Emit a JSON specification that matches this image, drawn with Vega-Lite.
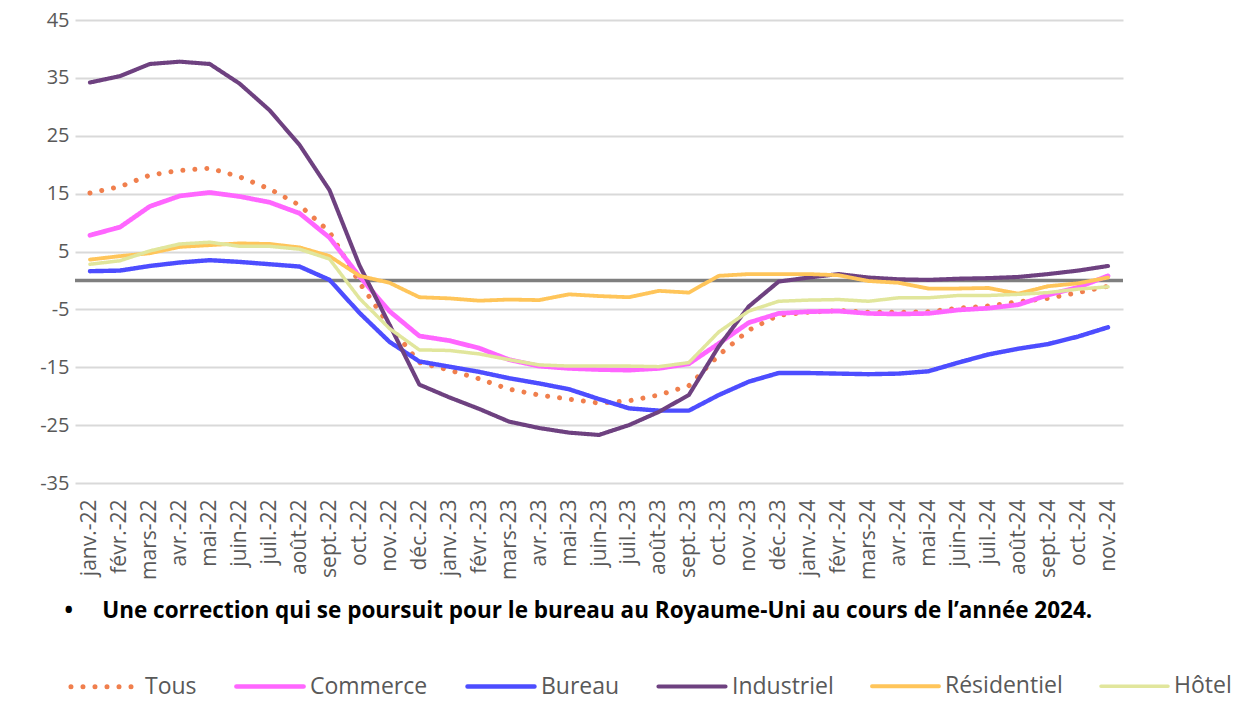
{
  "$schema": "https://vega.github.io/schema/vega-lite/v6.json",
  "width": 1048,
  "height": 463,
  "autosize": {"type": "none"},
  "padding": {"left": 75, "top": 20, "right": 130, "bottom": 219},
  "background": "white",
  "config": {"view": {"stroke": null}, "font": "Open Sans"},
  "layer": [
    {
      "data": {"values": [{"zero": 0}]},
      "mark": {"type": "rule", "color": "#7F7F7F", "strokeWidth": 3.5},
      "encoding": {"y": {"field": "zero", "type": "quantitative", "scale": {"domain": [-35, 45], "nice": false}}}
    },
    {
      "data": {"values": [
        {"mois": "janv.-22", "Tous": 15.1, "Commerce": 7.8, "Bureau": 1.6, "Industriel": 34.2, "Résidentiel": 3.6, "Hôtel": 2.8},
        {"mois": "févr.-22", "Tous": 16.2, "Commerce": 9.2, "Bureau": 1.7, "Industriel": 35.3, "Résidentiel": 4.2, "Hôtel": 3.4},
        {"mois": "mars-22", "Tous": 18.2, "Commerce": 12.8, "Bureau": 2.5, "Industriel": 37.4, "Résidentiel": 4.7, "Hôtel": 5.1},
        {"mois": "avr.-22", "Tous": 19.0, "Commerce": 14.6, "Bureau": 3.1, "Industriel": 37.8, "Résidentiel": 5.8, "Hôtel": 6.3},
        {"mois": "mai-22", "Tous": 19.4, "Commerce": 15.2, "Bureau": 3.5, "Industriel": 37.4, "Résidentiel": 6.1, "Hôtel": 6.6},
        {"mois": "juin-22", "Tous": 17.9, "Commerce": 14.5, "Bureau": 3.2, "Industriel": 34.0, "Résidentiel": 6.4, "Hôtel": 5.9},
        {"mois": "juil.-22", "Tous": 15.8, "Commerce": 13.5, "Bureau": 2.8, "Industriel": 29.4, "Résidentiel": 6.3, "Hôtel": 5.9},
        {"mois": "août-22", "Tous": 13.0, "Commerce": 11.6, "Bureau": 2.4, "Industriel": 23.4, "Résidentiel": 5.7, "Hôtel": 5.4},
        {"mois": "sept.-22", "Tous": 8.4, "Commerce": 7.4, "Bureau": 0.1, "Industriel": 15.6, "Résidentiel": 4.2, "Hôtel": 3.7},
        {"mois": "oct.-22", "Tous": -0.4, "Commerce": 0.7, "Bureau": -5.6, "Industriel": 2.6, "Résidentiel": 0.8, "Hôtel": -3.1},
        {"mois": "nov.-22", "Tous": -7.8, "Commerce": -5.3, "Bureau": -10.6, "Industriel": -7.6, "Résidentiel": -0.4, "Hôtel": -8.3},
        {"mois": "déc.-22", "Tous": -14.2, "Commerce": -9.6, "Bureau": -14.0, "Industriel": -18.0, "Résidentiel": -2.9, "Hôtel": -12.0},
        {"mois": "janv.-23", "Tous": -15.5, "Commerce": -10.4, "Bureau": -14.9, "Industriel": -20.2, "Résidentiel": -3.1, "Hôtel": -12.1},
        {"mois": "févr.-23", "Tous": -17.0, "Commerce": -11.7, "Bureau": -15.8, "Industriel": -22.2, "Résidentiel": -3.5, "Hôtel": -12.7},
        {"mois": "mars-23", "Tous": -18.8, "Commerce": -13.7, "Bureau": -16.9, "Industriel": -24.4, "Résidentiel": -3.3, "Hôtel": -13.7},
        {"mois": "avr.-23", "Tous": -19.8, "Commerce": -14.8, "Bureau": -17.8, "Industriel": -25.5, "Résidentiel": -3.4, "Hôtel": -14.6},
        {"mois": "mai-23", "Tous": -20.5, "Commerce": -15.2, "Bureau": -18.8, "Industriel": -26.3, "Résidentiel": -2.4, "Hôtel": -14.8},
        {"mois": "juin-23", "Tous": -21.2, "Commerce": -15.4, "Bureau": -20.5, "Industriel": -26.7, "Résidentiel": -2.7, "Hôtel": -14.8},
        {"mois": "juil.-23", "Tous": -20.8, "Commerce": -15.5, "Bureau": -22.1, "Industriel": -25.0, "Résidentiel": -2.9, "Hôtel": -14.8},
        {"mois": "août-23", "Tous": -19.8, "Commerce": -15.2, "Bureau": -22.5, "Industriel": -22.7, "Résidentiel": -1.8, "Hôtel": -14.9},
        {"mois": "sept.-23", "Tous": -18.2, "Commerce": -14.4, "Bureau": -22.5, "Industriel": -19.8, "Résidentiel": -2.1, "Hôtel": -14.2},
        {"mois": "oct.-23", "Tous": -12.9, "Commerce": -10.9, "Bureau": -19.8, "Industriel": -11.4, "Résidentiel": 0.8, "Hôtel": -8.9},
        {"mois": "nov.-23", "Tous": -8.6, "Commerce": -7.3, "Bureau": -17.5, "Industriel": -4.5, "Résidentiel": 1.1, "Hôtel": -5.3},
        {"mois": "déc.-23", "Tous": -6.0, "Commerce": -5.7, "Bureau": -16.0, "Industriel": -0.2, "Résidentiel": 1.1, "Hôtel": -3.6},
        {"mois": "janv.-24", "Tous": -5.5, "Commerce": -5.4, "Bureau": -16.0, "Industriel": 0.5, "Résidentiel": 1.1, "Hôtel": -3.4},
        {"mois": "févr.-24", "Tous": -5.2, "Commerce": -5.3, "Bureau": -16.1, "Industriel": 1.1, "Résidentiel": 0.9, "Hôtel": -3.3},
        {"mois": "mars-24", "Tous": -5.5, "Commerce": -5.7, "Bureau": -16.2, "Industriel": 0.5, "Résidentiel": -0.1, "Hôtel": -3.6},
        {"mois": "avr.-24", "Tous": -5.5, "Commerce": -5.8, "Bureau": -16.1, "Industriel": 0.2, "Résidentiel": -0.4, "Hôtel": -3.0},
        {"mois": "mai-24", "Tous": -5.4, "Commerce": -5.7, "Bureau": -15.7, "Industriel": 0.1, "Résidentiel": -1.4, "Hôtel": -3.0},
        {"mois": "juin-24", "Tous": -4.8, "Commerce": -5.1, "Bureau": -14.2, "Industriel": 0.3, "Résidentiel": -1.4, "Hôtel": -2.6},
        {"mois": "juil.-24", "Tous": -4.4, "Commerce": -4.8, "Bureau": -12.8, "Industriel": 0.4, "Résidentiel": -1.3, "Hôtel": -2.6},
        {"mois": "août-24", "Tous": -3.7, "Commerce": -4.2, "Bureau": -11.8, "Industriel": 0.6, "Résidentiel": -2.3, "Hôtel": -2.4},
        {"mois": "sept.-24", "Tous": -3.1, "Commerce": -2.5, "Bureau": -11.0, "Industriel": 1.1, "Résidentiel": -1.0, "Hôtel": -2.1},
        {"mois": "oct.-24", "Tous": -2.1, "Commerce": -1.2, "Bureau": -9.7, "Industriel": 1.7, "Résidentiel": -0.5, "Hôtel": -1.5},
        {"mois": "nov.-24", "Tous": -1.0, "Commerce": 0.8, "Bureau": -8.1, "Industriel": 2.5, "Résidentiel": 0.5, "Hôtel": -1.1}
      ]},
      "transform": [{"fold": ["Tous", "Commerce", "Bureau", "Industriel", "Résidentiel", "Hôtel"], "as": ["serie", "valeur"]}],
      "mark": {"type": "line", "strokeCap": "round", "strokeJoin": "round"},
      "encoding": {
        "x": {
          "field": "mois", "type": "ordinal", "sort": null,
          "scale": {"type": "point", "padding": 0.5},
          "axis": {
            "title": "•\u00a0\u00a0\u00a0\u00a0\u00a0Une correction qui se poursuit pour le bureau au Royaume-Uni au cours de l’année 2024.",
            "titleFont": "Open Sans", "titleFontWeight": "bold", "titleFontSize": 22.5, "titleColor": "#000000",
            "titleAnchor": "start", "titleAlign": "left", "titleX": -11, "titlePadding": 20,
            "labelAngle": -90, "labelFontSize": 21, "labelColor": "#595959", "labelPadding": 16,
            "labelFont": "Open Sans", "domain": false, "ticks": false, "grid": false
          }
        },
        "y": {
          "field": "valeur", "type": "quantitative",
          "scale": {"domain": [-35, 45], "nice": false},
          "axis": {
            "title": null, "values": [-35, -25, -15, -5, 5, 15, 25, 35, 45],
            "labelExpr": "datum.value < 0 ? '-' + abs(datum.value) : '' + datum.value",
            "labelFontSize": 20, "labelColor": "#595959", "labelFont": "Open Sans", "labelPadding": 6,
            "domain": false, "ticks": false, "gridColor": "#D9D9D9", "gridWidth": 2
          }
        },
        "color": {
          "field": "serie", "type": "nominal",
          "scale": {"domain": ["Tous", "Commerce", "Bureau", "Industriel", "Résidentiel", "Hôtel"],
                    "range": ["#F07F4D", "#FF66FF", "#4D4DFF", "#6E4180", "#FFC55A", "#E1E69C"]},
          "legend": {
            "orient": "none", "legendX": -7, "legendY": 630, "direction": "horizontal", "title": null,
            "symbolType": "stroke", "symbolSize": 4500, "symbolStrokeWidth": 4,
            "labelFontSize": 23, "labelColor": "#595959", "labelFont": "Open Sans",
            "columnPadding": 30, "labelOffset": 4,
            "encode": {"symbols": {"update": {"strokeCap": {"value": "round"}}}}
          }
        },
        "strokeDash": {
          "field": "serie", "type": "nominal",
          "scale": {"domain": ["Tous", "Commerce", "Bureau", "Industriel", "Résidentiel", "Hôtel"],
                    "range": [[0.01, 12], [1, 0], [1, 0], [1, 0], [1, 0], [1, 0]]}
        },
        "strokeWidth": {
          "field": "serie", "type": "nominal",
          "scale": {"domain": ["Tous", "Commerce", "Bureau", "Industriel", "Résidentiel", "Hôtel"],
                    "range": [5, 3.5, 3.5, 3.5, 3.5, 3.5]},
          "legend": null
        }
      }
    }
  ]
}
